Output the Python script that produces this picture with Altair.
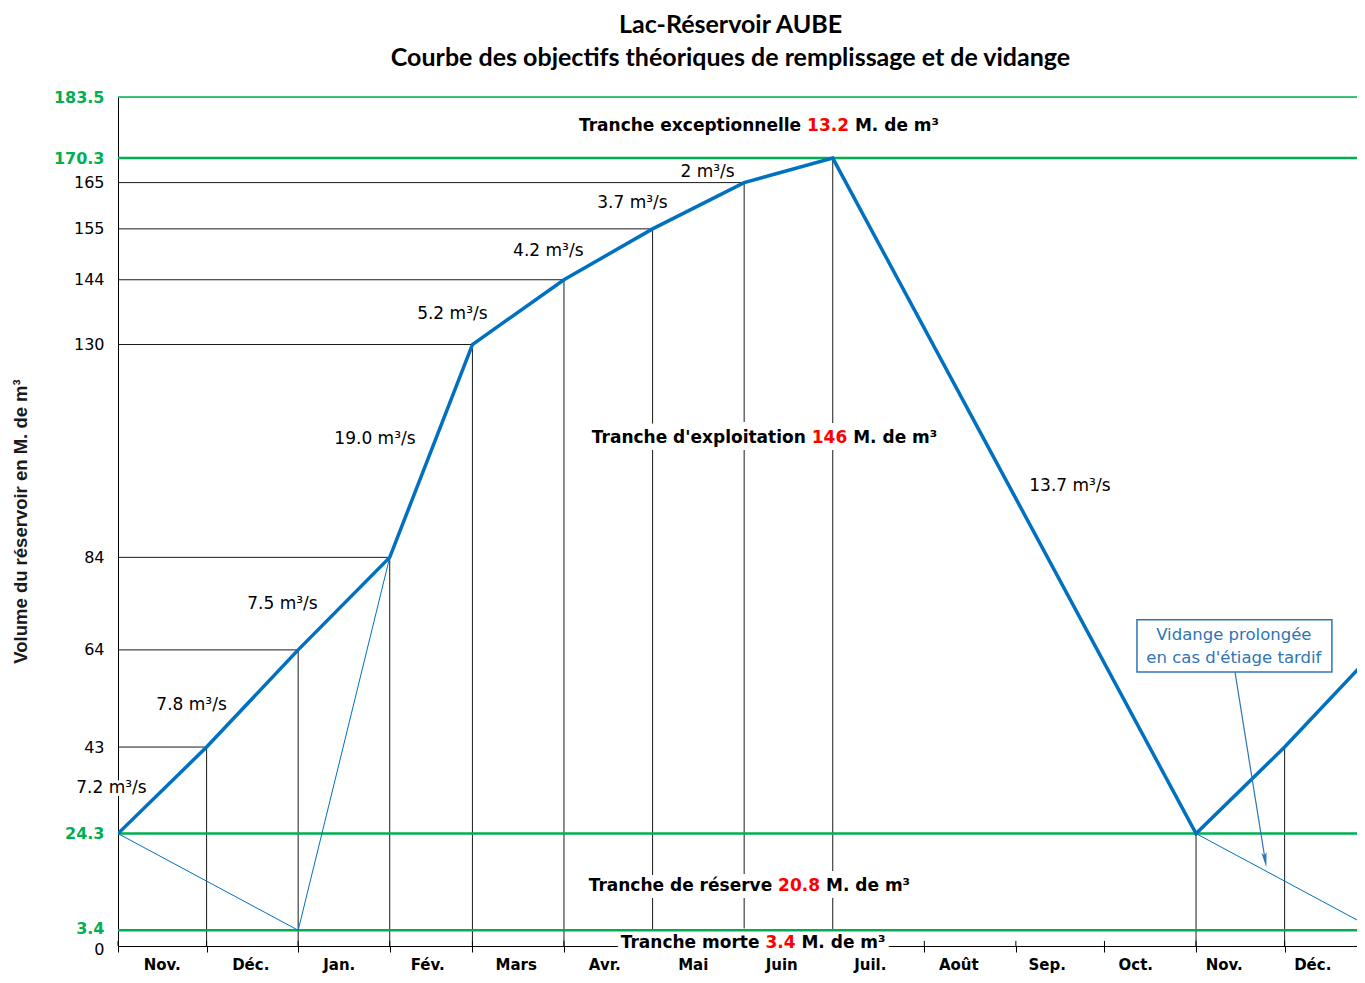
import altair as alt
import pandas as pd

# ---------------- data ----------------
# x is expressed in days counted from 1 November
month_labels = ["Nov.", "Déc.", "Jan.", "Fév.", "Mars", "Avr.", "Mai", "Juin",
                "Juil.", "Août", "Sep.", "Oct.", "Nov.", "Déc."]
month_start_day = [0, 30, 61, 92, 120, 151, 181, 212, 242, 273, 304, 334, 365, 395]

# theoretical objective curve (M. m3)
curve_day = [0, 30, 61, 92, 120, 151, 181, 212, 242, 365, 395, 426]
curve_volume = [24.3, 43, 64, 84, 130, 144, 155, 165, 170.3, 24.3, 43, 64]

# thin lines (prolonged emptying)
thin1_day = [0, 61, 92]
thin1_volume = [24.3, 3.4, 84]
thin2_day = [365, 426]
thin2_volume = [24.3, 3.4]

# reference levels
level_values = [183.5, 170.3, 24.3, 3.4]
green_ticks = [3.4, 24.3, 170.3, 183.5]
y_ticks = [0, 3.4, 24.3, 43, 64, 84, 130, 144, 155, 165, 170.3, 183.5]

# guide lines at month boundaries
drop_day = [30, 61, 92, 120, 151, 181, 212, 242, 365, 395]
drop_volume = [43, 64, 84, 130, 144, 155, 165, 170.3, 24.3, 43]
hline_day = [30, 61, 92, 120, 151, 181, 212]
hline_volume = [43, 64, 84, 130, 144, 155, 165]

# flow-rate annotations
rate_labels = ["7.2 m³/s", "7.8 m³/s", "7.5 m³/s", "19.0 m³/s", "5.2 m³/s",
               "4.2 m³/s", "3.7 m³/s", "2 m³/s", "13.7 m³/s"]
rate_day = [-2.2, 24.9, 55.7, 87.0, 113.2, 145.7, 174.2, 199.6, 322.3]
rate_volume = [34.1, 52.1, 73.9, 109.6, 136.6, 150.2, 160.6, 167.3, 99.4]

# zone annotations: prefix, red number, suffix, anchor (day, volume)
zone_prefix = ["Tranche exceptionnelle", "Tranche d'exploitation", "Tranche de réserve", "Tranche morte"]
zone_number = ["13.2", "146", "20.8", "3.4"]
zone_suffix = ["M. de m³", "M. de m³", "M. de m³", "M. de m³"]
zone_day = [240.4, 240.9, 230.6, 224.3]
zone_volume = [177.3, 109.8, 13.0, 0.65]

box_lines = ["Vidange prolongée", "en cas d'étiage tardif"]

# ---------------- styling ----------------
X_MAX = 419.5
Y_MAX = 183.5
W, H = 1239, 849
BLUE = "#0070C0"
BOX_BLUE = "#2E75B6"
GREEN = "#00B050"
RED = "#FF0000"
FONT = "DejaVu Sans"
ZFS = 17  # zone label font size
RFS = 17  # rate label font size
BOLD_W = {**{d: 0.696 for d in "0123456789"}, ".": 0.380, " ": 0.348}


def xsc():
    return alt.Scale(domain=[0, X_MAX], nice=False, zero=False)


def ysc():
    return alt.Scale(domain=[0, Y_MAX], nice=False, zero=False)


def X(field, axis=None):
    return alt.X(field, type="quantitative", scale=xsc(), axis=axis)


def Y(field, axis=None):
    return alt.Y(field, type="quantitative", scale=ysc(), axis=axis)


layers = []

# horizontal guide lines from the axis to the curve
hl_df = pd.DataFrame({"x0": [0] * len(hline_day), "day": hline_day, "vol": hline_volume})
layers.append(alt.Chart(hl_df).mark_rule(color="#1a1a1a", strokeWidth=1).encode(
    x=X("x0"), x2=alt.X2("day"), y=Y("vol")))

# vertical drop lines
dr_df = pd.DataFrame({"day": drop_day, "y0": [0] * len(drop_day), "vol": drop_volume})
layers.append(alt.Chart(dr_df).mark_rule(color="#1a1a1a", strokeWidth=1).encode(
    x=X("day"), y=Y("y0"), y2=alt.Y2("vol")))

# inner part of the month tick marks (ticks cross the axis)
tk_df = pd.DataFrame({"day": month_start_day, "y0": [0] * len(month_start_day),
                      "y1": [1.1] * len(month_start_day)})
layers.append(alt.Chart(tk_df).mark_rule(color="black", strokeWidth=1).encode(
    x=X("day"), y=Y("y0"), y2=alt.Y2("y1")))

# white halos (label backgrounds)
halo_layers = []
text_layers = []
for pre, num, suf, d, v in zip(zone_prefix, zone_number, zone_suffix, zone_day, zone_volume):
    half = sum(BOLD_W[c] for c in num) * ZFS / 2 + BOLD_W[" "] * ZFS
    for t, al, dx, col in [(pre, "right", -half, "black"), (num, "center", 0, RED), (suf, "left", half, "black")]:
        df = pd.DataFrame({"day": [d], "vol": [v], "t": [t]})
        base = alt.Chart(df)
        halo_layers.append(base.mark_text(
            align=al, dx=dx, baseline="middle", font=FONT, fontSize=ZFS, fontWeight="bold",
            color="white", stroke="white", strokeWidth=14, strokeJoin="round").encode(
            x=X("day"), y=Y("vol"), text="t:N"))
        text_layers.append(base.mark_text(
            align=al, dx=dx, baseline="middle", font=FONT, fontSize=ZFS, fontWeight="bold",
            color=col).encode(x=X("day"), y=Y("vol"), text="t:N"))

rate_df = pd.DataFrame({"label": rate_labels, "day": rate_day, "vol": rate_volume})
halo_layers.append(alt.Chart(rate_df).transform_filter("datum.day < 0").mark_text(
    align="center", baseline="middle", font=FONT, fontSize=RFS, color="white",
    stroke="white", strokeWidth=6, strokeJoin="round").encode(
    x=X("day"), y=Y("vol"), text="label:N"))
layers += halo_layers

# green reference levels
layers.append(alt.Chart(pd.DataFrame({"level": level_values})).mark_rule(color=GREEN).encode(
    y=Y("level"),
    strokeWidth=alt.condition("datum.level == 183.5", alt.value(1.5), alt.value(2.5))))

# thin blue lines
thin_df = pd.DataFrame({
    "day": thin1_day + thin2_day,
    "vol": thin1_volume + thin2_volume,
    "seg": ["a"] * len(thin1_day) + ["b"] * len(thin2_day),
})
layers.append(alt.Chart(thin_df).mark_line(color=BLUE, strokeWidth=1, clip=True).encode(
    x=X("day"), y=Y("vol"), detail="seg:N"))

# axes definitions
green_test = "indexof([" + ",".join(str(v) for v in green_ticks) + "], datum.value) >= 0"
y_axis = alt.Axis(
    values=y_ticks, grid=False, ticks=False, domainColor="black", domainWidth=1,
    labelExpr="datum.value + ''", labelFont=FONT, labelFontSize=16, labelPadding=14,
    labelOverlap=False, labelFlush=False,
    labelOffset={"condition": [{"test": "datum.value == 0", "value": 3},
                               {"test": "datum.value == 3.4", "value": -2}], "value": 0},
    labelColor=alt.condition(green_test, alt.value(GREEN), alt.value("black")),
    labelFontWeight=alt.condition(green_test, alt.value("bold"), alt.value("normal")),
    title="Volume du réservoir en M. de m³", titleFont="Liberation Sans", titleFontSize=18.5,
    titleFontWeight="bold", titleColor="#1a1a1a", titleAngle=270, titleX=-98, titleY=424,
    titleAlign="center", titleBaseline="middle")
x_axis = alt.Axis(values=month_start_day, labels=False, title=None, grid=False,
                  tickSize=6, tickColor="black", domainColor="black", domainWidth=1)

# main curve
curve_df = pd.DataFrame({"day": curve_day, "vol": curve_volume})
layers.append(alt.Chart(curve_df).mark_line(color=BLUE, strokeWidth=3.5, clip=True).encode(
    x=X("day", axis=x_axis), y=Y("vol", axis=y_axis)))

# rate labels
layers.append(alt.Chart(rate_df).mark_text(
    align="center", baseline="middle", font=FONT, fontSize=RFS, color="black").encode(
    x=X("day"), y=Y("vol"), text="label:N"))

layers += text_layers

# annotation box with arrow
box_df = pd.DataFrame({"x1": [345.0], "x2": [411.0], "y1": [70.5], "y2": [59.2]})
layers.append(alt.Chart(box_df).mark_rect(fill="white", stroke=BOX_BLUE, strokeWidth=1.5).encode(
    x=X("x1"), x2=alt.X2("x2"), y=Y("y1"), y2=alt.Y2("y2")))
box_txt_df = pd.DataFrame({"t": box_lines, "day": [377.8, 377.8], "vol": [67.2, 62.2]})
layers.append(alt.Chart(box_txt_df).mark_text(
    align="center", baseline="middle", font=FONT, fontSize=16.5, color=BOX_BLUE).encode(
    x=X("day"), y=Y("vol"), text="t:N"))
arrow_df = pd.DataFrame({"day": [378.2, 388.4], "vol": [59.2, 18.6]})
layers.append(alt.Chart(arrow_df).mark_line(color=BOX_BLUE, strokeWidth=1.2).encode(
    x=X("day"), y=Y("vol")))
layers.append(alt.Chart(arrow_df.iloc[[1]]).mark_point(
    shape="M-0.35,-1L0,1L0.35,-1L0,-0.6Z", filled=True, size=220, color=BOX_BLUE, opacity=1,
    angle=350.7).encode(x=X("day"), y=Y("vol")))

# month labels (evenly spaced category labels)
mon_df = pd.DataFrame({"i": list(range(len(month_labels))), "m": month_labels})
layers.append(alt.Chart(mon_df).mark_text(
    font=FONT, fontWeight="bold", fontSize=15, baseline="alphabetic", color="black").encode(
    x=alt.X("i:O", scale=alt.Scale(type="point", padding=0.5), axis=None),
    y=alt.value(873), text="m:N"))

chart = alt.layer(*layers).resolve_scale(x="independent", y="independent").properties(
    width=W, height=H,
    autosize=alt.AutoSizeParams(type="none"),
    padding={"left": 110, "top": 89, "right": 0, "bottom": 29},
    title=alt.TitleParams(
        text=["Lac-Réservoir AUBE", "Courbe des objectifs théoriques de remplissage et de vidange"],
        font="Lato", fontSize=25, fontWeight="bold", color="black", anchor="middle",
        frame="group", dx=-7, offset=18, lineHeight=33),
).configure_view(stroke=None).configure(background="white")

chart.save("out.html", embed_options={"renderer": "svg", "actions": False})
